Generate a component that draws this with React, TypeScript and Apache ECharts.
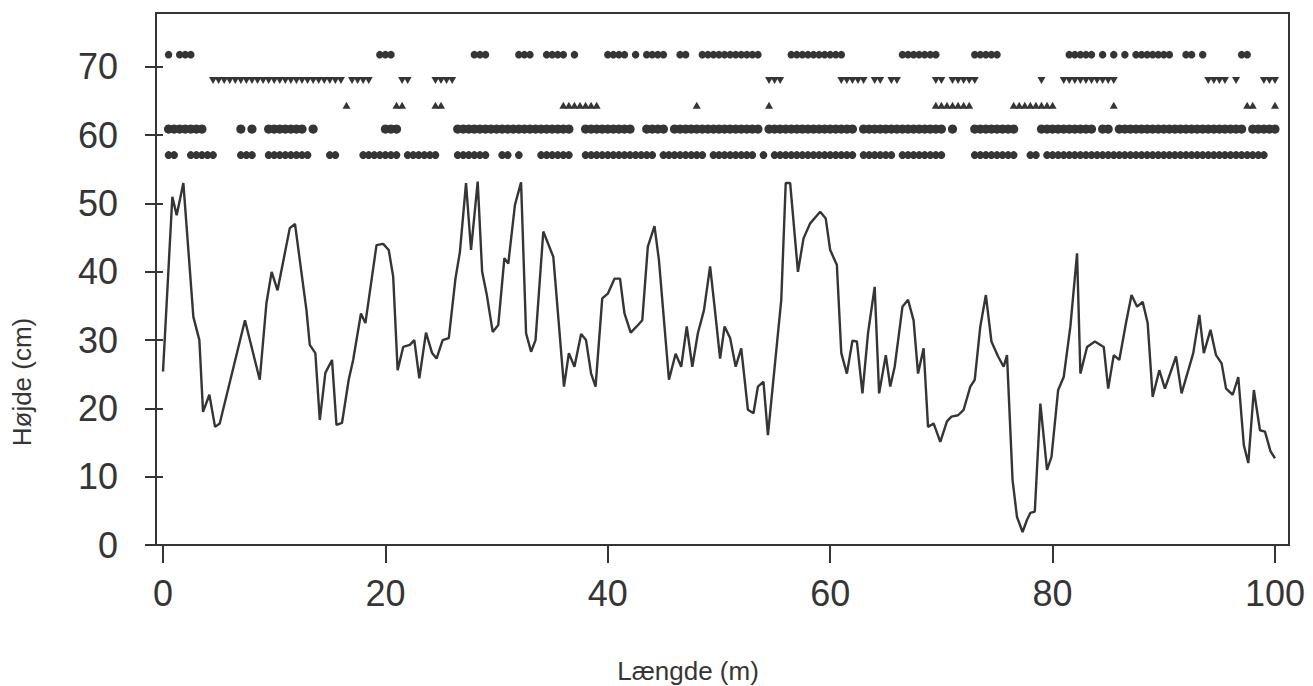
import React, { useEffect, useRef } from "react";
import * as echarts from "echarts";

// Profile line: length along transect (m) and height (cm)
const lengthM = [
  0, 0.84, 1.23, 1.83, 2.73, 3.27, 3.6, 4.17, 4.68, 5.1, 7.37, 8.7, 9.3, 9.77, 10.3, 11.4, 11.87, 12.9, 13.2, 13.7,
  14.1, 14.6, 15.2, 15.6, 16.1, 16.7, 17.1, 17.8, 18.2, 19.2, 19.8, 20.3, 20.7, 21.1, 21.6, 22.2, 22.6, 23.05, 23.65, 24.2,
  24.6, 25.15, 25.7, 26.3, 26.7, 27.25, 27.7, 28.3, 28.7, 29.1, 29.65, 30.15, 30.7, 31.05, 31.65, 32.2, 32.65, 33.1, 33.5, 34.2,
  35.1, 36.06, 36.5, 37.0, 37.6, 38.04, 38.5, 38.9, 39.5, 40.0, 40.6, 41.1, 41.5, 42.06, 42.6, 43.1, 43.6, 44.2, 44.6, 45.5,
  46.1, 46.6, 47.1, 47.6, 48.1, 48.65, 49.2, 49.6, 50.1, 50.5, 51.0, 51.5, 52.0, 52.6, 53.1, 53.5, 54.0, 54.4, 55.6, 56.0,
  56.4, 57.1, 57.6, 58.2, 59.1, 59.6, 60.0, 60.6, 61.0, 61.5, 62.0, 62.4, 62.9, 63.4, 64.0, 64.4, 65.0, 65.4, 65.8, 66.5,
  67.0, 67.5, 67.9, 68.4, 68.8, 69.3, 69.9, 70.5, 70.9, 71.5, 72.0, 72.6, 73.0, 73.5, 74.0, 74.5, 75.1, 75.6, 75.9, 76.4,
  76.8, 77.3, 77.7, 78.0, 78.4, 78.9, 79.5, 79.9, 80.5, 81.0, 81.6, 82.2, 82.5, 83.1, 83.8, 84.6, 85.0, 85.5, 86.0, 86.6,
  87.1, 87.6, 88.1, 88.55, 89.0, 89.6, 90.1, 91.1, 91.6, 92.65, 93.2, 93.6, 94.2, 94.7, 95.2, 95.6, 96.2, 96.7, 97.2, 97.6,
  98.1, 98.65, 99.1, 99.6, 100.0,
];
const heightCm = [
  25.4, 51.0, 48.3, 53.0, 33.4, 30.0, 19.5, 22.0, 17.3, 17.8, 32.9, 24.2, 35.4, 40.0, 37.3, 46.4, 47.0, 34.4, 29.3, 28.1,
  18.3, 25.2, 27.1, 17.6, 17.9, 24.2, 27.1, 33.9, 32.5, 43.9, 44.1, 43.2, 39.3, 25.6, 29.0, 29.3, 30.0, 24.4, 31.1, 28.1,
  27.3, 30.0, 30.3, 39.0, 42.9, 53.0, 43.2, 53.2, 40.0, 36.8, 31.2, 32.2, 42.0, 41.2, 49.8, 53.1, 31.0, 28.3, 30.0, 45.9,
  42.2, 23.2, 28.1, 26.1, 30.9, 30.0, 25.1, 23.2, 36.1, 36.8, 39.0, 39.0, 33.9, 31.1, 32.0, 32.9, 43.7, 46.7, 41.7, 24.2,
  28.0, 26.1, 32.0, 26.1, 31.0, 34.4, 40.8, 34.9, 27.3, 32.0, 30.3, 26.1, 28.8, 19.8, 19.3, 23.2, 23.9, 16.1, 35.9, 53.0,
  53.0, 40.0, 44.9, 47.1, 48.8, 47.8, 43.2, 41.0, 28.1, 25.1, 29.9, 29.8, 22.2, 31.0, 37.8, 22.2, 27.8, 23.2, 26.1, 34.9,
  35.9, 32.9, 25.1, 28.8, 17.3, 17.8, 15.1, 18.1, 18.8, 19.0, 19.8, 23.2, 24.2, 32.0, 36.6, 29.8, 27.6, 26.1, 27.8, 9.5,
  4.1, 1.9, 3.7, 4.7, 4.9, 20.7, 11.0, 12.9, 22.7, 24.6, 32.0, 42.7, 25.1, 29.0, 29.8, 29.0, 22.9, 27.8, 27.1, 32.5,
  36.6, 34.9, 35.6, 32.5, 21.7, 25.6, 22.9, 27.6, 22.2, 28.1, 33.7, 28.1, 31.5, 27.8, 26.6, 22.9, 22.0, 24.6, 14.6, 12.0,
  22.7, 16.8, 16.6, 13.7, 12.7,
];

// Presence rows above the profile: runs of 0.5 m positions [from, to]
const row1Level = 71.8;
const row1Runs = [[0.5], [1.5, 2.5], [19.5, 20.5], [28, 29], [32, 33], [34.5, 36], [37], [40, 41.5], [42.5], [43.5, 45], [46.5, 47], [48.5, 53.5], [56.5, 61], [66.5, 69.5], [73, 75], [81.5, 83.5], [84.5], [85.5], [86.5], [87.5, 90.5], [92, 92.5], [93.5], [97, 97.5]];
const row2Level = 68.0;
const row2Runs = [[4.5, 16], [17, 18.5], [21.5, 22], [24.5, 26], [54.5, 55.5], [61, 63], [64, 64.5], [65.5], [66], [69.5], [70], [71, 73], [79], [81, 85.5], [94, 95.5], [96.5], [99, 100]];
const row3Level = 64.4;
const row3Runs = [[16.5], [21, 21.5], [24.5, 25], [36, 39], [48], [54.5], [69.5, 72.5], [76.5, 80], [85.5], [97.5, 98], [100]];
const row4Level = 60.9;
const row4Runs = [[0.5, 3.5], [7], [8], [9.5, 12.5], [13.5], [20, 21], [26.5, 36.5], [38, 42], [43.5, 45], [46, 53.5], [54.5, 62], [63, 70], [71], [73, 76.5], [79, 83.5], [84.5, 85], [86, 97], [98, 100]];
const row5Level = 57.1;
const row5Runs = [[0.5, 1], [2.5, 4.5], [7, 8], [9.5, 13], [15, 15.5], [18, 21], [22, 24.5], [26.5, 29], [30.5, 31], [32], [34, 36.5], [38, 44], [45, 48.5], [49.5, 53], [54], [55, 62], [63, 65.5], [66.5, 70], [73, 76.5], [78, 78.5], [79.5, 99]];

const xTicks = [0, 20, 40, 60, 80, 100];
const yTicks = [0, 10, 20, 30, 40, 50, 60, 70];

const INK = "#353535";
const FONT = "'Liberation Sans', Arial, Helvetica, sans-serif";

function runsToPoints(runs: number[][], level: number): number[][] {
  const pts: number[][] = [];
  runs.forEach((r) => {
    const a = r[0];
    const b = r.length > 1 ? r[1] : r[0];
    for (let v = a; v <= b + 1e-9; v += 0.5) pts.push([Math.round(v * 10) / 10, level]);
  });
  return pts;
}

export default function App() {
  const ref = useRef<HTMLDivElement>(null);
  useEffect(() => {
    if (!ref.current) return;
    const chart = echarts.init(ref.current, null, { renderer: "svg" });
    const marker = (data: number[][], symbol: string, size: any, rotate = 0) => ({
      type: "scatter",
      data,
      symbol,
      symbolSize: size,
      symbolRotate: rotate,
      itemStyle: { color: INK, opacity: 1 },
      silent: true,
      z: 3,
    });
    chart.setOption({
      animation: false,
      backgroundColor: "#ffffff",
      grid: {
        left: 156,
        right: 24,
        top: 13,
        bottom: 141,
        show: true,
        borderColor: INK,
        borderWidth: 2,
        backgroundColor: "transparent",
        containLabel: false,
        outerBoundsMode: "none",
      },
      xAxis: {
        type: "value",
        min: -0.63,
        max: 101.26,
        axisLine: { show: false },
        splitLine: { show: false },
        axisTick: { show: true, length: 18, lineStyle: { color: INK, width: 2 }, customValues: xTicks },
        axisLabel: {
          customValues: xTicks,
          fontSize: 36,
          fontFamily: FONT,
          color: INK,
          margin: 30,
          showMinLabel: true,
          showMaxLabel: true,
        },
      },
      yAxis: {
        type: "value",
        min: 0,
        max: 77.9,
        axisLine: { show: false },
        splitLine: { show: false },
        axisTick: { show: true, length: 18, lineStyle: { color: INK, width: 2 }, customValues: yTicks },
        axisLabel: {
          customValues: yTicks,
          fontSize: 36,
          fontFamily: FONT,
          color: INK,
          margin: 38,
          padding: [0, 0, 8, 0],
          showMinLabel: true,
          showMaxLabel: true,
        },
      },
      series: [
        {
          type: "line",
          data: lengthM.map((x, i) => [x, heightCm[i]]),
          showSymbol: false,
          symbol: "none",
          lineStyle: { color: INK, width: 2.4 },
          itemStyle: { color: INK },
          silent: true,
          z: 2,
        },
        marker(runsToPoints(row1Runs, row1Level), "circle", 7.5),
        marker(runsToPoints(row2Runs, row2Level), "triangle", [8, 7], 180),
        marker(runsToPoints(row3Runs, row3Level), "triangle", [8, 7]),
        marker(runsToPoints(row4Runs, row4Level), "circle", 9.2),
        marker(runsToPoints(row5Runs, row5Level), "circle", 7.8),
      ],
      graphic: [
        {
          type: "text",
          x: 688,
          y: 671,
          style: {
            text: "Længde (m)",
            fontSize: 26,
            fontFamily: FONT,
            fill: INK,
            align: "center",
            verticalAlign: "middle",
          },
        },
        {
          type: "text",
          x: 22,
          y: 382,
          rotation: Math.PI / 2,
          style: {
            text: "Højde (cm)",
            fontSize: 26,
            fontFamily: FONT,
            fill: INK,
            align: "center",
            verticalAlign: "middle",
          },
        },
      ],
    });
    return () => chart.dispose();
  }, []);
  return (
    <div
      ref={ref}
      style={{ position: "absolute", left: 0, top: 0, width: 1313, height: 686, background: "#fff" }}
    />
  );
}
